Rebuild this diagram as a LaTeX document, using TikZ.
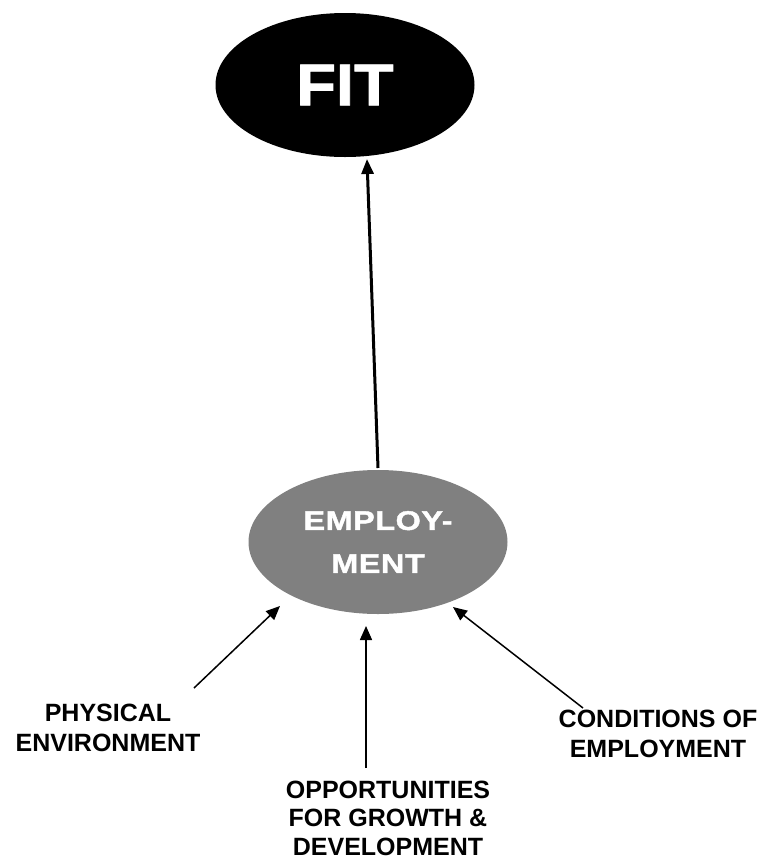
\documentclass[tikz,border=0pt]{standalone}
\usepackage{fontspec}
\setmainfont{Liberation Sans}
\usetikzlibrary{arrows.meta,shapes.geometric}
\begin{document}
\begin{tikzpicture}[x=1pt,y=1pt,
  bubble/.style={ellipse,inner sep=0pt,text=white,align=center},
  label/.style={align=center,inner sep=0pt,font=\fontsize{25}{30}\selectfont\bfseries},
  thick arrow/.style={line width=3pt,-{Triangle[length=15pt,width=12pt]}},
  thin arrow/.style={line width=1.5pt,-{Triangle[length=14pt,width=12pt]}}]
\useasboundingbox (0,0) rectangle (764,-865);
\node[bubble,fill=black,minimum width=259pt,minimum height=144pt,
  font=\fontsize{59}{60}\selectfont\bfseries\addfontfeature{FakeStretch=1.1,FakeBold=1.5}] (fit) at (345,-85) {FIT};
\node[bubble,fill=gray,minimum width=259pt,minimum height=144pt,
  font=\fontsize{27}{43}\selectfont\bfseries\addfontfeature{FakeStretch=1.2,FakeBold=1.5,LetterSpace=2}] (emp) at (378,-542) {EMPLOY-\\MENT};
\node[label] (phys) at (108,-728) {PHYSICAL\\ENVIRONMENT};
\node[label] (cond) at (658,-733.5) {CONDITIONS OF\\EMPLOYMENT};
\node[label,font=\fontsize{25}{28.5}\selectfont\bfseries] (opp) at (388,-818) {OPPORTUNITIES\\FOR GROWTH \&\\DEVELOPMENT};
\coordinate (empTop) at (378,-468);
\coordinate (fitBot) at (367,-159);
\coordinate (physStart) at (194,-688);
\coordinate (physTip) at (280,-606);
\coordinate (oppStart) at (366,-768);
\coordinate (oppTip) at (366,-626);
\coordinate (condStart) at (583,-708);
\coordinate (condTip) at (453,-607);
\draw[thick arrow] (empTop) -- (fitBot);
\draw[thin arrow] (physStart) -- (physTip);
\draw[thin arrow] (oppStart) -- (oppTip);
\draw[thin arrow] (condStart) -- (condTip);
\end{tikzpicture}
\end{document}
